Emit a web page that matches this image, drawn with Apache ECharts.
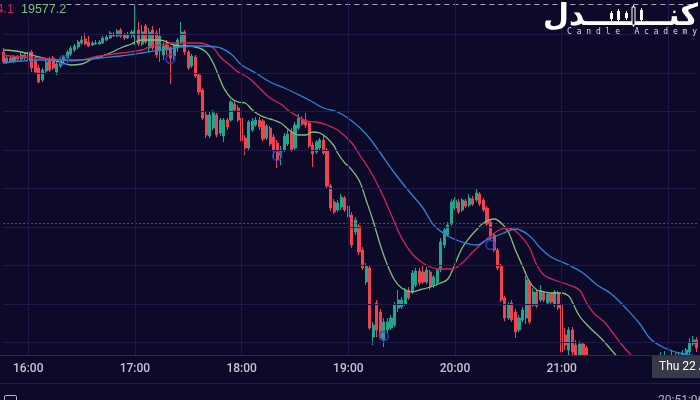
<!DOCTYPE html>
<html><head><meta charset="utf-8">
<script src="https://cdn.jsdelivr.net/npm/echarts@6/dist/echarts.min.js"></script>
<style>html,body{margin:0;padding:0;background:#0d0a29;}#c{width:700px;height:400px;}</style>
</head><body><div id="c"></div>
<script>
// ---- data ----
const startMinute = 15 * 60 + 46;   // first candle 15:46
const stepMinutes = 2;              // 2-minute candles
// [open, close, low, high]
const candles = [
[19597,19594.5,19594,19598],[19594.5,19595.5,19594,19596.25],[19595.5,19594.75,19594.25,19596],[19594.75,19595.75,19594.25,19596.25],
[19595.75,19595.25,19594.5,19596.25],[19595.25,19596.25,19595,19596.75],[19596.25,19595.5,19595,19597],[19595,19597,19587.5,19599.5],
[19597,19593,19592,19597.5],[19595,19592,19591.5,19596],[19593,19589.5,19589.25,19593.75],[19590,19592.5,19589.5,19593],
[19592.25,19594.5,19591.75,19595.5],[19595,19592.5,19592,19595.75],[19595.5,19593,19592.5,19596],[19592,19594,19591.25,19594.5],
[19593.5,19595,19593,19595.5],[19594.75,19595.75,19594.25,19596.25],[19595.5,19597,19595,19597.5],[19596.5,19598,19596,19598.5],
[19597.5,19598.5,19597,19599],[19598.25,19599.5,19597.75,19600],[19599.25,19600,19598.75,19601],[19600.25,19599,19598.75,19601.75],
[19599.5,19598.5,19598.25,19601],[19598.75,19599.25,19598.5,19599.75],[19599,19599.25,19598.75,19600],[19599,19599.5,19598.75,19600],
[19599.25,19600.5,19599,19601],[19600,19600.75,19599.75,19601.25],[19600.5,19601.75,19600.25,19602.25],[19601.5,19601,19600.75,19602],
[19601,19602.25,19600.75,19602.75],[19602.5,19601,19600.5,19603],[19601.25,19600.5,19600,19601.75],[19600.5,19601.5,19600.25,19602],
[19601.25,19602,19600.5,19602.5],[19600.75,19602.25,19598.75,19608.75],[19602.5,19599,19598.5,19604.5],[19599,19602,19598.5,19603.75],
[19603.5,19599.5,19599,19604],[19598,19602,19597,19603],[19602.5,19598,19597.5,19603.5],[19601.75,19596.25,19595.5,19602.5],
[19597.5,19601,19594.5,19603],[19596.25,19598.5,19595,19599.5],[19598.75,19597.5,19596.25,19600],[19598,19595.5,19589,19598.5],
[19596,19598.5,19595,19599],[19598,19600,19597,19600.5],[19599.5,19602,19599,19604.5],[19602,19597,19596.25,19602.5],
[19597,19593,19592.5,19597.5],[19593.5,19596,19593,19596.5],[19595.75,19591,19590.5,19596.25],[19591.25,19587,19586.25,19591.75],
[19587.5,19580.5,19580,19588],[19581.25,19576.25,19575.5,19582],[19576,19581.25,19575.5,19582],[19578,19581.75,19577.5,19582.5],
[19581.25,19576.25,19575.75,19581.75],[19576.75,19580,19576,19580.5],[19576,19580,19574.5,19580.5],[19580,19578.25,19577.5,19580.5],
[19580,19584.5,19579.5,19585],[19584,19582.5,19582,19585],[19583,19580,19579.5,19583.75],[19580.5,19574.75,19574.25,19581],
[19575.5,19573,19571.25,19576.25],[19573,19579.5,19572.5,19580],[19577.5,19579.75,19577,19580.5],[19578.75,19580,19578.25,19580.75],
[19580,19578.25,19577.5,19580.75],[19579.75,19575.25,19574.75,19580.25],[19575.5,19578.5,19575,19579],[19578,19574,19573.5,19578.5],
[19575.75,19572.25,19570.5,19576.5],[19574.25,19570,19568,19575],[19571.25,19572.5,19568.75,19573.5],[19572.5,19576,19572,19576.75],
[19574,19576.5,19573.5,19577.5],[19577,19572.5,19572,19578],[19573,19578.75,19572.5,19579.5],[19578,19580.5,19577.5,19581.5],
[19580.25,19579,19578.5,19581],[19580,19578.75,19578,19581.75],[19579.25,19573.5,19573,19579.75],[19573.75,19571.5,19568.25,19574.5],
[19572,19574.5,19571.5,19575],[19573,19575,19572.5,19575.5],[19575,19571.75,19571.25,19576],[19572.5,19563.5,19563,19573],
[19563.5,19558,19557.25,19564],[19559.5,19557,19556.5,19560.25],[19557.5,19559.25,19557,19560],[19558.25,19560.75,19557.5,19561.5],
[19560.5,19557.5,19557,19561],[19558.5,19555.75,19555,19559],[19556.25,19548.75,19548,19557],[19552,19555,19551.25,19555.75],
[19553.5,19547,19546.25,19554],[19547.5,19543,19542.5,19548.25],[19539.5,19543.5,19538.75,19544.25],[19543,19528,19527.5,19543.5],
[19525.75,19528.75,19523.75,19529.5],[19534.25,19527.5,19525.75,19535],[19532,19525.5,19525,19532.75],[19525,19529.5,19523.25,19530.5],
[19527.5,19529.5,19526.75,19530.5],[19528,19530.5,19527.5,19531.25],[19528.75,19533.75,19528.25,19534.5],[19533,19535,19532,19537.5],
[19533.25,19535,19532.75,19535.75],[19534,19537.5,19533.5,19538],[19537.5,19535.5,19535,19538.25],[19537,19541.75,19536.5,19542.5],
[19538.75,19542.25,19538.25,19543],[19542.25,19539.25,19538.75,19543],[19542,19539.5,19539,19543.75],[19539.5,19542.5,19539,19543.25],
[19542,19538.25,19537.5,19542.5],[19538.75,19540.75,19538,19541.25],[19539.25,19542.5,19538.75,19543],[19542.5,19549.5,19542,19550.5],
[19548.75,19552.5,19548,19553.25],[19551.25,19553.75,19550.75,19554.5],[19554,19559.5,19553.5,19560.25],[19558,19560,19557.5,19560.75],
[19559.5,19557,19556.5,19560.25],[19557.5,19560,19557,19560.5],[19559.75,19558.5,19558,19560.25],[19558.75,19560.5,19558.25,19561.5],
[19560.25,19559,19558.5,19561],[19560,19561.75,19559.5,19563],[19561.5,19559,19558.5,19562],[19560,19557.5,19557,19560.5],
[19558,19554,19553.5,19558.5],[19554.5,19551,19550,19555],[19551.25,19547.5,19547,19551.75],[19547.5,19543,19542.5,19548],
[19543.5,19535,19534.5,19544],[19535.5,19530.5,19529.75,19536],[19530.5,19533.75,19530,19534.5],[19534.25,19530,19529.5,19535],
[19532,19527,19525.5,19532.75],[19527.5,19530.5,19527,19531.25],[19530,19532.5,19529.5,19533.25],[19530.5,19540,19529,19541],
[19539.5,19529.5,19529,19540],[19533.75,19537,19533.25,19538],[19537,19533.5,19533,19537.5],[19535,19537.25,19534.5,19538.75],
[19536.75,19535,19534.5,19537.25],[19534.25,19536.5,19533.75,19537],[19536.5,19534.5,19534,19537],[19533.75,19537,19533.25,19537.5],
[19536.75,19533,19532.5,19537.25],[19533.75,19522,19521,19534.25],[19526.25,19523.75,19522.5,19528],[19522.5,19527.5,19520.5,19528.25],
[19527.5,19522,19521,19528.25],[19523.75,19521.25,19520,19525],[19521,19524,19520,19524.75],[19524,19521,19519.5,19524.5],
[19523,19519.5,19518.5,19523.5],[19520,19517,19516.25,19520.75],[19517,19515,19514,19518],[19515,19516.5,19514,19517.5],
[19516.5,19513.5,19512.5,19517],[19513.5,19512,19511,19514.25],[19512,19514,19511.5,19515],[19514,19511.5,19510.5,19514.75],
[19511.5,19510,19509,19512.5],[19510,19512,19509.5,19513],[19512,19513.5,19511.25,19514.5],[19513.5,19511,19510.5,19514.25],
[19511,19513,19510.25,19513.75],[19513,19514.5,19512.25,19515.5],[19514.5,19513,19512.25,19515.25],[19513,19515.5,19512.5,19516.5],
[19515.5,19517,19515,19518],[19517,19515.5,19514.75,19518],[19515.5,19517.5,19515,19518.5],[19517.5,19519,19517,19520],
[19519,19518,19517.25,19520],[19518,19520,19517.5,19522],[19519.5,19521,19518.75,19522.25],[19521,19519.5,19519,19521.75],
[19519.5,19521.25,19519,19522.5],[19521.25,19520,19519.25,19521.75],[19520,19521,19519.5,19522],[19520.75,19521.75,19520.25,19522.5],
[19521.5,19522.5,19520.75,19523],[19522,19524.5,19521.5,19525.5],[19524,19525,19523.5,19526],[19525,19523,19522,19525.75]
];
// moving averages: [candle index, value]
const maFast = [[0,19597.5],[5,19597],[10,19595.75],[16,19594.5],[19,19593.75],[22,19594],[25,19595.25],[27,19595.75],[30,19596.75],[33,19598],[36,19599],[39,19600],[44,19600],[48,19598.75],[54,19598.25],[57,19597],[59,19594.25],[61,19590],[62,19588],[64,19585.5],[66,19584.5],[68,19584.25],[70,19582.5],[72,19581.25],[74,19580.5],[76,19580],[78,19579.25],[80,19577.75],[82,19576.5],[83,19576.25],[85,19576.25],[87,19577],[89,19576.75],[91,19575.5],[93,19573.5],[94,19571.75],[96,19569.25],[97,19568.5],[100,19565],[102,19560],[104,19554.75],[106,19548.75],[108,19543.75],[110,19540],[112,19538],[115,19537],[117,19537.5],[120,19538.25],[123,19539.25],[125,19540.25],[127,19544],[129,19548],[131,19550.5],[133,19552.5],[135,19554.25],[138,19555.25],[140,19554.25],[142,19552],[144,19547.5],[146,19543.5],[148,19539.5],[150,19537.5],[151,19537.25],[154,19536.75],[157,19536.75],[159,19536],[160,19534.5],[162,19531],[165,19528],[168,19525.5],[171,19522.5],[174,19519.5],[179,19515.5],[185,19513.75],[190,19515],[195,19517]];
const maMid = [[0,19596.25],[5,19595.75],[10,19595.5],[16,19595],[19,19594.75],[22,19595],[27,19596],[33,19596.75],[39,19597.5],[41,19598.25],[44,19598.75],[48,19599.25],[55,19599.25],[59,19598],[61,19595.75],[64,19593.5],[66,19592],[69,19590.5],[72,19588],[75,19585.5],[78,19584],[80,19582.5],[83,19580.75],[85,19579.75],[88,19579.5],[91,19578.75],[94,19577.5],[98,19574.25],[100,19571.5],[103,19567.5],[106,19562.5],[109,19556.5],[112,19550.5],[115,19546.5],[118,19544.25],[120,19543.25],[123,19542.75],[126,19542.75],[129,19544.25],[132,19547],[135,19549.5],[137,19551],[140,19552.75],[142,19553],[144,19552.25],[146,19550.5],[148,19548],[150,19543.75],[152,19541.25],[155,19540],[159,19538.75],[162,19537.5],[164,19534.25],[166,19531.75],[169,19529.5],[171,19527.25],[174,19523.75],[177,19520.75],[181,19517],[187,19514.25],[192,19513.5],[195,19513.75]];
const maSlow = [[0,19594.25],[5,19594.75],[10,19595],[16,19595],[22,19595],[27,19595.5],[33,19596],[39,19596.75],[44,19597.5],[48,19598],[54,19598.5],[60,19598.25],[64,19596.5],[67,19593.75],[71,19591.75],[75,19589.5],[79,19588],[82,19586.75],[86,19585],[90,19583],[94,19582],[98,19579.75],[102,19576.5],[106,19571.75],[110,19566.75],[114,19562.25],[118,19558],[121,19553.75],[125,19551],[129,19549.5],[133,19548.75],[136,19550],[140,19551.5],[144,19552.75],[148,19551],[151,19548],[154,19545.75],[159,19543.75],[163,19541.75],[167,19538.75],[171,19536.5],[175,19533],[179,19529],[182,19525.25],[186,19523],[190,19521.75],[193,19521.25],[195,19521]];
const signals = [[17,19595],[47,19595.25],[77,19571],[107,19526],[137,19548.75]];
const gridPrices = [19601.425,19591.8,19582.175,19572.55,19562.925,19553.3,19543.675,19534.05,19524.425];
const priceMin = 19521.25, priceMax = 19610;
const lastPrice = 19554.175;
const sessionHigh = 19609;
const legendValues = ['19574.1', '19577.2'];
const dateLabel = "Thu 22 Aug '24";
const clockLabel = '20:51:06 (UTC+3:30)';

// ---- build ----
const pad = n => (n < 10 ? '0' : '') + n;
const times = candles.map((_, i) => { const m = startMinute + i * stepMinutes; return pad(Math.floor(m / 60) % 24) + ':' + pad(m % 60); });
const isHour = (i, v) => v.slice(3) === '00';
const BG = '#0d0a29', GRID = '#1f1a4b';
const UP = '#22a58f', DOWN = '#f0424f';
const C_FAST = '#7fbf7a', C_MID = '#d3245c', C_SLOW = '#2e83db';

const chart = echarts.init(document.getElementById('c'), null, { renderer: 'canvas', width: 700, height: 400 });
const maLine = (name, data, color) => ({
  type: 'line', name, data, smooth: 0.4, showSymbol: false, clip: true, z: 4, silent: true,
  lineStyle: { color, width: 1.3 }
});
// logo candle icons (decoration)
const logoCandles = [[610, 13, 19], [617, 11, 20], [625, 13, 18], [632, 7, 25], [640, 10, 20]].map(([x, t, b], k) => ({
  type: 'group', z: 102, children: [
    { type: 'line', z: 102, shape: { x1: x + 1.5, y1: t - 2, x2: x + 1.5, y2: b + 2 }, style: { stroke: '#ffffff', lineWidth: 1 } },
    { type: 'rect', z: 102, shape: { x: x, y: t, width: 3, height: b - t }, style: k === 3 ? { fill: BG, stroke: '#ffffff', lineWidth: 1 } : { fill: '#ffffff' } }
  ]
}));
chart.setOption({
  animation: false,
  backgroundColor: BG,
  grid: { left: 3.38, right: 3.22, top: 0, height: 355 },
  xAxis: {
    type: 'category', data: times, boundaryGap: false, z: 20,
    axisLine: { show: false }, axisTick: { show: false },
    axisLabel: { interval: isHour, color: '#c3c4cc', fontSize: 12, fontFamily: 'Roboto', fontWeight: 500, margin: 8 },
    splitLine: { show: true, interval: isHour, lineStyle: { color: GRID, width: 1 } }
  },
  yAxis: { type: 'value', min: priceMin, max: priceMax, show: false, splitLine: { show: false } },
  series: [
    { type: 'line', data: [], z: 0, silent: true,
      markLine: { silent: true, symbol: 'none', label: { show: false },
        lineStyle: { color: GRID, type: 'solid', width: 1 },
        data: gridPrices.map(v => ({ yAxis: v })) } },
    { type: 'candlestick', data: candles, clip: true, z: 3, barWidth: 2.6, silent: true,
      itemStyle: { color: UP, color0: DOWN, borderColor: UP, borderColor0: DOWN, borderWidth: 1 },
      markLine: { silent: true, symbol: 'none', label: { show: false }, z: 6,
        data: [
          { yAxis: lastPrice, lineStyle: { color: '#d62d62', type: [1.5, 2.5], width: 1 } },
          { yAxis: sessionHigh, lineStyle: { color: '#a7a9b8', type: [5, 4], width: 1 } }
        ] } },
    maLine('fast', maFast, C_FAST),
    maLine('mid', maMid, C_MID),
    maLine('slow', maSlow, C_SLOW),
    { type: 'scatter', data: signals, z: 5, symbol: 'circle', symbolSize: 9, silent: true,
      itemStyle: { color: 'rgba(0,0,0,0)', borderColor: '#2b45c2', borderWidth: 1.6 } }
  ],
  graphic: [
    // mask the area under the plot so candles that overflow are hidden (axis labels are drawn above it)
    { type: 'rect', z: 10, shape: { x: 0, y: 356, width: 700, height: 44 }, style: { fill: BG } },
    { type: 'rect', z: 100, shape: { x: 0, y: 0, width: 66, height: 17 }, style: { fill: BG } },
    { type: 'text', z: 101, x: 14, y: 3, style: { text: legendValues[0], fill: C_MID, font: '12.5px "Liberation Sans"', textAlign: 'right', textVerticalAlign: 'top' } },
    { type: 'text', z: 101, x: 21, y: 3, style: { text: legendValues[1], fill: C_FAST, font: '12.5px "Liberation Sans"', textAlign: 'left', textVerticalAlign: 'top' } },
    // logo
    { type: 'text', z: 101, x: 698, y: 2, style: { text: 'کنــــــــدل', fill: '#ffffff', font: 'bold 30px "DejaVu Sans"', textAlign: 'right', textVerticalAlign: 'top' } },
    { type: 'text', z: 101, x: 567, y: 28, style: { text: 'C a n d l e   A c a d e m y', fill: '#dcdce4', font: '8px "DejaVu Sans Mono"', textAlign: 'left', textVerticalAlign: 'top' } },
    ...logoCandles,
    // axis borders
    { type: 'line', z: 100, shape: { x1: 0, y1: 355.5, x2: 700, y2: 355.5 }, style: { stroke: '#2a2572', lineWidth: 1 } },
    { type: 'line', z: 100, shape: { x1: 0, y1: 383.5, x2: 700, y2: 383.5 }, style: { stroke: '#201b50', lineWidth: 1 } },
    // date label box
    { type: 'rect', z: 102, shape: { x: 652, y: 356, width: 60, height: 22 }, style: { fill: '#363946' } },
    { type: 'text', z: 103, x: 659, y: 367, style: { text: dateLabel, fill: '#ffffff', font: '12px Roboto', textAlign: 'left', textVerticalAlign: 'middle' } },
    { type: 'text', z: 101, x: 658, y: 395, style: { text: clockLabel, fill: '#b2b5be', font: '12px Roboto', textAlign: 'left', textVerticalAlign: 'top' } },
    // calendar icon
    { type: 'rect', z: 101, shape: { x: 4.5, y: 395.5, width: 12, height: 10, r: 1.5 }, style: { fill: 'none', stroke: '#b2b5be', lineWidth: 1 } }
  ]
});
</script>
</body></html>
